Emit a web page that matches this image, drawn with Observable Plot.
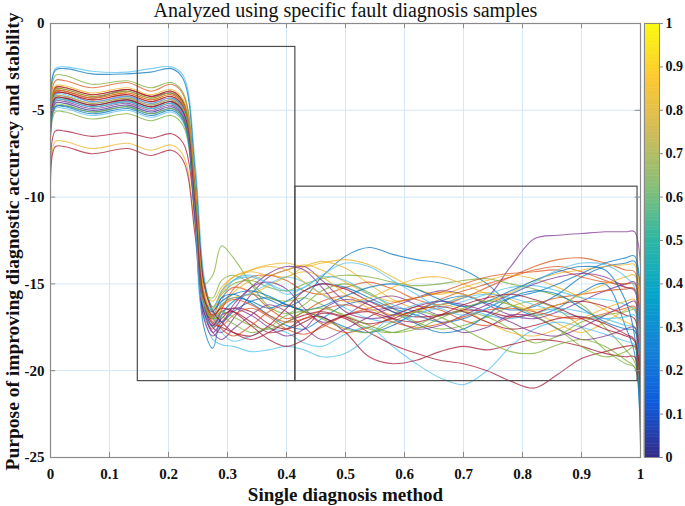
<!DOCTYPE html>
<html><head><meta charset="utf-8">
<script src="https://cdn.jsdelivr.net/npm/d3@7"></script>
<script src="https://cdn.jsdelivr.net/npm/@observablehq/plot@0.6"></script>
<style>
body{margin:0;background:#fff}
#wrap{position:relative;width:685px;height:506px;overflow:hidden}
#main{position:absolute;left:0;top:0}
#cb{position:absolute;left:640px;top:0}
</style>
</head><body>
<div id="wrap"><div id="main"></div><div id="cb"></div></div>
<script>
const xs = [0, 0.008, 0.025, 0.07, 0.13, 0.17, 0.205, 0.225, 0.245, 0.26, 0.275,
  0.29, 0.31, 0.34, 0.37, 0.40, 0.43, 0.46, 0.50, 0.54, 0.58, 0.62, 0.66, 0.70, 0.74, 0.78, 0.82, 0.86, 0.90, 0.94, 0.975,
  0.99, 1.0];

const series = [
 [-9.8,-4.8,-4.75,-5.1,-4.8,-5.2,-4.9,-5.5, -11.5,-17.5,-18.7, -16.8,-16.0,-15.6,-15.9,-16.3,-15.8,-14.6,-13.4,-12.9,-13.3,-13.6,-13.8,-14.2,-15.0,-16.2,-16.8,-16.4,-15.5,-15.0,-17.5, -19.0,-23.5],
 [-9.6,-3.3,-3.3,-3.7,-3.4,-3.9,-3.5,-4.1, -9.5,-15.5,-16.8, -15.8,-15.2,-15.5,-16.4,-17.0,-16.6,-16.0,-15.7,-16.2,-16.8,-16.5,-15.9,-15.4,-15.0,-14.6,-14.2,-14.0,-14.3,-14.8,-15.2, -15.3,-22.5],
 [-9.9,-6.8,-6.8,-7.2,-6.9,-7.3,-7.0,-7.6, -11.8,-16.0,-17.2, -16.4,-15.5,-14.8,-14.5,-14.6,-14.0,-13.7,-14.1,-15.0,-15.9,-16.4,-16.2,-15.7,-15.5,-15.9,-16.6,-17.3,-17.8,-17.2,-16.5, -16.4,-22.8],
 [-9.7,-4.1,-4.0,-4.5,-4.2,-4.6,-4.3,-4.9, -10.2,-16.5,-17.8, -17.2,-16.5,-15.2,-14.9,-15.3,-16.4,-17.2,-16.8,-16.0,-15.7,-16.2,-16.8,-16.5,-15.8,-14.0,-12.4,-12.2,-12.1,-12.0,-12.0, -12.0,-23.8],
 [-9.5,-3.0,-3.0,-3.5,-3.3,-3.7,-3.4,-4.0, -9.0,-15.0,-16.3, -15.6,-15.0,-14.8,-15.2,-15.4,-15.0,-14.7,-14.5,-14.6,-14.9,-15.1,-15.0,-14.8,-14.7,-15.0,-15.3,-15.7,-16.2,-17.5,-18.8, -19.5,-22.0],
 [-9.4,-2.6,-2.5,-2.75,-2.8,-2.6,-2.5,-3.0, -8.0,-14.5,-16.8, -17.8,-18.3,-18.0,-17.6,-17.8,-18.4,-18.6,-17.9,-17.5,-18.6,-19.6,-20.4,-20.8,-20.0,-18.6,-17.6,-17.2,-17.5,-17.9,-18.3, -18.5,-24.3],
 [-10.0,-6.2,-6.2,-6.5,-6.3,-6.6,-6.35,-6.9, -11.0,-16.3,-17.5, -17.0,-16.4,-16.6,-17.3,-17.6,-17.2,-16.7,-17.0,-17.8,-18.5,-19.0,-19.4,-19.6,-20.0,-20.6,-21.0,-20.2,-19.3,-18.9,-18.6, -18.6,-23.0],
 [-9.8,-2.7,-2.6,-2.9,-2.9,-2.8,-2.6,-3.2, -8.5,-14.8,-16.5, -17.2,-16.6,-16.0,-15.8,-16.2,-16.6,-16.9,-17.5,-17.8,-17.4,-16.6,-16.0,-15.7,-16.1,-16.5,-16.3,-15.6,-14.6,-14.0,-13.8, -13.7,-22.5],
 [-9.6,-3.8,-3.8,-4.2,-3.9,-4.3,-4.0,-4.6, -10.5,-16.8,-17.6, -16.5,-15.3,-14.6,-14.5,-14.8,-15.4,-15.6,-15.2,-14.9,-15.3,-15.9,-16.2,-15.8,-15.2,-14.6,-14.0,-13.6,-13.5,-13.8,-14.2, -14.3,-23.2],
 [-9.7,-4.4,-4.4,-4.8,-4.5,-4.9,-4.6,-5.2, -11.0,-15.8,-16.4, -15.5,-14.8,-14.2,-13.9,-13.8,-14.0,-13.8,-13.6,-13.9,-14.6,-15.3,-15.6,-15.2,-14.8,-14.5,-14.7,-15.2,-15.8,-16.5,-17.2, -17.5,-23.6],
 [-9.6,-3.9,-3.9,-4.3,-3.8,-4.2,-4.0,-4.6, -9.8,-16.2,-17.5, -17.8,-17.0,-15.6,-14.6,-14.2,-14.0,-14.8,-16.0,-16.5,-16.3,-15.8,-15.4,-15.6,-16.2,-16.8,-17.0,-16.6,-16.0,-15.4,-15.0, -14.9,-24.0],
 [-9.8,-5.1,-5.1,-5.5,-5.2,-5.6,-5.3,-5.9, -10.5,-15.0,-14.5, -12.8,-13.5,-15.0,-16.3,-16.7,-16.2,-15.4,-15.0,-15.5,-16.4,-17.2,-17.6,-17.4,-16.9,-16.3,-16.0,-16.5,-17.5,-18.8,-19.6, -19.8,-21.8],
 [-9.9,-4.9,-4.9,-5.3,-5.0,-5.4,-5.1,-5.7, -11.2,-16.8,-18.2, -18.5,-18.6,-18.9,-18.8,-18.6,-18.8,-19.2,-19.0,-18.0,-16.8,-16.2,-16.0,-16.3,-16.8,-17.0,-16.7,-16.4,-16.6,-17.0,-17.4, -17.5,-24.5],
 [-10.1,-7.1,-7.1,-7.5,-7.2,-7.6,-7.3,-7.9, -12.2,-16.6,-17.4, -16.8,-16.6,-17.2,-17.8,-17.6,-17.0,-16.9,-17.8,-19.2,-19.6,-19.4,-18.9,-18.6,-18.8,-18.5,-18.2,-18.3,-18.6,-19.0,-19.2, -19.2,-23.4],
 [-9.7,-4.2,-4.2,-4.6,-4.3,-4.7,-4.4,-5.0, -10.8,-16.5,-17.0, -16.2,-15.8,-16.0,-16.4,-16.0,-15.4,-15.0,-15.2,-15.8,-16.4,-16.8,-17.2,-17.0,-16.4,-15.8,-15.5,-15.0,-14.4,-13.8,-13.5, -13.4,-22.7],
 [-9.6,-4.0,-4.0,-4.4,-4.1,-4.5,-4.2,-4.8, -10.0,-15.8,-17.0, -17.6,-18.0,-17.4,-16.6,-16.2,-16.6,-17.3,-17.8,-17.5,-16.9,-16.3,-16.5,-17.1,-17.4,-16.9,-16.2,-15.8,-15.6,-15.4,-15.3, -15.3,-23.9],
 [-9.5,-3.9,-3.9,-4.3,-4.0,-4.4,-4.1,-4.7, -9.6,-15.2,-16.0, -15.2,-14.6,-14.3,-14.5,-14.2,-13.9,-14.2,-14.9,-15.6,-16.0,-15.8,-15.5,-15.6,-16.0,-15.5,-14.8,-14.4,-14.2,-14.0,-13.9, -13.9,-23.0],
 [-9.8,-4.5,-4.5,-4.9,-4.6,-5.0,-4.7,-5.3, -11.0,-16.5,-17.8, -18.2,-17.6,-16.8,-16.2,-16.6,-17.5,-18.2,-17.6,-16.9,-16.4,-16.6,-17.2,-17.8,-17.5,-16.8,-16.9,-17.6,-18.2,-18.0,-17.6, -17.5,-22.4],
 [-9.7,-4.3,-4.3,-4.7,-4.4,-4.8,-4.5,-5.1, -10.5,-15.5,-15.8, -14.8,-14.5,-15.0,-15.8,-16.0,-15.8,-16.2,-16.9,-17.6,-17.8,-17.4,-16.8,-16.6,-16.9,-17.6,-18.4,-18.0,-17.2,-16.8,-16.6, -16.5,-23.3],
 [-9.9,-4.6,-4.6,-5.0,-4.7,-5.1,-4.8,-5.4, -11.4,-16.9,-17.3, -16.0,-14.8,-14.5,-15.0,-15.6,-15.2,-14.6,-14.8,-15.6,-16.2,-16.6,-16.4,-16.0,-15.6,-15.2,-15.1,-15.4,-15.8,-15.9,-16.2, -16.5,-24.1],
 [-9.6,-4.0,-4.0,-4.4,-4.1,-4.5,-4.2,-4.8, -10.2,-16.2,-17.3, -17.5,-17.8,-18.0,-17.4,-16.4,-15.4,-15.0,-15.3,-16.0,-16.6,-16.9,-16.8,-16.5,-16.6,-16.9,-16.7,-16.2,-16.0,-16.3,-16.8, -17.0,-23.7],
 [-9.8,-4.8,-4.8,-5.2,-4.9,-5.3,-5.0,-5.6, -11.3,-16.0,-16.6, -15.8,-15.6,-16.1,-16.8,-17.4,-17.6,-17.0,-16.2,-16.0,-16.6,-17.3,-17.8,-17.6,-16.8,-15.8,-15.4,-15.6,-16.4,-17.2,-17.6, -17.7,-22.9],
 [-9.5,-3.7,-3.7,-4.1,-3.8,-4.2,-3.9,-4.5, -9.4,-15.6,-17.2, -17.4,-16.8,-16.4,-16.9,-17.6,-17.9,-17.5,-16.8,-16.4,-16.1,-15.8,-15.5,-15.0,-14.6,-14.4,-14.3,-14.2,-14.6,-14.9,-15.0, -15.0,-23.5],
 [-9.7,-4.2,-4.2,-4.6,-4.3,-4.7,-4.4,-5.0, -10.6,-16.0,-16.8, -16.2,-15.8,-15.6,-15.1,-14.6,-14.3,-14.6,-15.6,-16.4,-16.8,-16.6,-16.2,-16.5,-17.2,-17.8,-18.0,-17.6,-17.0,-16.4,-16.0, -15.9,-22.6],
 [-9.7,-4.3,-4.3,-4.7,-4.4,-4.8,-4.5,-5.1, -10.4,-16.6,-17.4, -16.6,-16.4,-16.8,-17.5,-18.0,-17.6,-16.5,-15.9,-16.2,-17.0,-17.6,-17.4,-16.8,-16.2,-15.6,-15.0,-14.6,-14.4,-14.6,-15.2, -15.4,-23.1],
 [-9.8,-4.7,-4.7,-5.1,-4.8,-5.2,-4.9,-5.5, -11.1,-16.2,-17.0, -16.9,-17.3,-17.8,-17.5,-16.8,-16.6,-17.0,-17.6,-17.8,-17.2,-16.6,-16.9,-17.6,-18.3,-18.9,-19.0,-18.5,-18.2,-18.6,-19.4, -19.8,-22.2],
 [-9.6,-4.1,-4.1,-4.5,-4.2,-4.6,-4.3,-4.9, -10.0,-16.4,-17.5, -16.8,-16.0,-15.5,-15.0,-14.6,-14.9,-15.6,-16.4,-17.0,-17.2,-16.8,-16.2,-15.8,-15.6,-15.8,-16.2,-16.6,-16.9,-17.0,-16.9, -16.8,-24.4],
 [-9.5,-3.7,-3.7,-4.1,-3.8,-4.2,-3.9,-4.5, -9.2,-15.0,-16.6, -17.2,-17.8,-18.2,-17.8,-17.2,-16.8,-16.6,-16.9,-17.3,-17.0,-16.5,-16.3,-16.6,-17.2,-17.6,-17.4,-17.0,-16.9,-17.3,-17.9, -18.2,-23.8],
 [-9.8,-4.4,-4.4,-4.8,-4.5,-4.9,-4.6,-5.2, -10.9,-15.9,-16.5, -16.0,-15.6,-15.4,-15.7,-16.2,-16.5,-16.3,-15.7,-15.2,-15.0,-15.3,-15.9,-16.3,-16.0,-15.4,-14.8,-14.3,-14.0,-14.2,-16.0, -18.0,-24.2],
 [-9.6,-3.9,-3.9,-4.3,-4.0,-4.4,-4.1,-4.7, -10.1,-16.1,-16.9, -16.3,-15.9,-16.2,-16.8,-17.2,-17.0,-16.5,-16.2,-16.6,-17.2,-17.5,-17.3,-16.9,-16.5,-16.4,-16.6,-16.9,-17.0,-16.7,-16.4, -16.3,-22.7],
 [-9.5,-3.6,-3.6,-4.0,-3.7,-4.1,-3.8,-4.4, -9.0,-15.4,-16.5, -15.4,-14.6,-14.2,-14.0,-14.2,-14.9,-15.6,-16.0,-15.8,-15.2,-14.7,-14.6,-15.0,-15.6,-16.2,-16.5,-16.2,-15.6,-15.0,-14.6, -14.5,-23.4],
 [-9.8,-4.6,-4.6,-5.0,-4.7,-5.1,-4.8,-5.4, -11.2,-17.0,-18.0, -17.4,-16.2,-15.2,-14.4,-14.0,-14.2,-15.2,-16.6,-17.0,-16.8,-16.3,-16.0,-16.2,-16.6,-17.2,-17.8,-18.0,-17.5,-16.8,-16.2, -16.0,-22.3],
 [-9.6,-3.8,-3.8,-4.2,-3.9,-4.3,-4.0,-4.6, -9.8,-15.9,-17.0, -16.6,-16.9,-17.4,-17.6,-17.2,-16.6,-16.4,-16.8,-17.4,-17.8,-17.6,-17.0,-16.4,-16.0,-16.2,-16.8,-17.6,-18.6,-19.2,-18.9, -18.6,-23.6],
 [-9.7,-4.4,-4.4,-4.8,-4.5,-4.9,-4.6,-5.2, -10.7,-16.2,-16.4, -15.4,-14.8,-14.6,-15.0,-15.4,-15.2,-14.5,-13.8,-14.0,-14.8,-15.6,-16.4,-16.8,-16.4,-15.6,-14.9,-14.2,-13.8,-13.9,-14.6, -15.2,-24.0],
 [-9.7,-4.3,-4.3,-4.7,-4.4,-4.8,-4.5,-5.1, -10.4,-15.8,-16.8, -16.4,-16.6,-17.4,-18.2,-18.6,-18.2,-17.4,-16.8,-16.6,-17.0,-17.2,-16.8,-16.2,-15.8,-15.6,-15.9,-16.4,-17.0,-17.6,-18.0, -18.3,-23.2]
];

const lineColors = ["#0072BD", "#D95319", "#EDB120", "#7E2F8E", "#77AC30", "#4DBEEE", "#A2142F"];
const xTicks = [0, 0.1, 0.2, 0.3, 0.4, 0.5, 0.6, 0.7, 0.8, 0.9, 1];
const yTicks = [0, -5, -10, -15, -20, -25];
const cTicks = [0, 0.1, 0.2, 0.3, 0.4, 0.5, 0.6, 0.7, 0.8, 0.9, 1];
const boxes = [
  {x1: 0.148, x2: 0.415, y1: -20.6, y2: -1.35},
  {x1: 0.415, x2: 0.995, y1: -20.6, y2: -9.4}
];
const parulaStops = ["#352A87", "#0F5CDD", "#1481D6", "#06A4CA", "#2EB7A4", "#87BF77", "#D1BB59", "#FEC832", "#F9FB0E"];

const titleText = "Analyzed using specific fault diagnosis samples";
const xLabel = "Single diagnosis method";
const yLabel = "Purpose of improving diagnostic accuracy and stability";

const rows = series.flatMap((s, i) => s.map((v, j) => ({x: xs[j], y: v, id: i, c: lineColors[i % 7]})));
const font = "'Liberation Serif', 'Times New Roman', serif";

const main = Plot.plot({
  width: 685, height: 506,
  marginTop: 23, marginBottom: 49, marginLeft: 50, marginRight: 45,
  style: {fontFamily: font, background: "transparent"},
  x: {domain: [0, 1], label: null},
  y: {domain: [-25, 0], label: null},
  color: {type: "identity"},
  marks: [
    Plot.gridX(xTicks, {stroke: "#d6e6f4", strokeOpacity: 1}),
    Plot.gridY(yTicks, {stroke: "#d6e6f4", strokeOpacity: 1}),
    Plot.line(rows, {x: "x", y: "y", z: "id", stroke: "c", curve: "catmull-rom", strokeWidth: 1.1, strokeOpacity: 0.72, clip: true}),
    Plot.rect(boxes, {x1: "x1", x2: "x2", y1: "y1", y2: "y2", fill: "none", stroke: "#4d4d4d", strokeWidth: 1.2}),
    Plot.frame({stroke: "#8a8a8a", strokeWidth: 1.2}),
    Plot.ruleX(xTicks, {x: d => d, y1: -25, y2: -24.7, stroke: "#8a8a8a"}),
    Plot.ruleX(xTicks, {x: d => d, y1: 0, y2: -0.3, stroke: "#8a8a8a"}),
    Plot.ruleY(yTicks, {y: d => d, x1: 0, x2: 0.009, stroke: "#8a8a8a"}),
    Plot.ruleY(yTicks, {y: d => d, x1: 1, x2: 0.991, stroke: "#8a8a8a"}),
    Plot.axisX(xTicks, {anchor: "bottom", tickSize: 0, tickPadding: 11, tickFormat: d => String(d), fontSize: 15, fontWeight: "bold", fill: "#111", label: null}),
    Plot.axisY(yTicks, {anchor: "left", tickSize: 0, tickPadding: 6, tickFormat: d => String(d), fontSize: 15, fontWeight: "bold", fill: "#111", label: null}),
    Plot.text([titleText], {frameAnchor: "top", lineAnchor: "middle", dy: -13, text: d => d, fontSize: 20, fill: "#111"}),
    Plot.text([xLabel], {frameAnchor: "bottom", lineAnchor: "middle", dy: 37, text: d => d, fontSize: 19, fontWeight: "bold", fill: "#111"}),
    Plot.text([yLabel], {frameAnchor: "left", textAnchor: "middle", lineAnchor: "middle", dx: -38, dy: 1, rotate: -90, text: d => d, fontSize: 19.5, fontWeight: "bold", fill: "#111"})
  ]
});
document.getElementById("main").appendChild(main);

const bands = d3.range(128);
const cb = Plot.plot({
  width: 45, height: 506,
  marginTop: 23, marginBottom: 49, marginLeft: 4, marginRight: 26,
  style: {fontFamily: font, background: "transparent", overflow: "visible"},
  y: {domain: [0, 1], label: null},
  color: {domain: [0, 1], interpolate: d3.piecewise(d3.interpolateRgb, parulaStops)},
  marks: [
    Plot.rect(bands, {y1: d => d / 128, y2: d => (d + 1) / 128, fill: d => (d + 0.5) / 128, stroke: d => (d + 0.5) / 128, strokeWidth: 0.5}),
    Plot.frame({stroke: "#8a8a8a"}),
    Plot.axisY(cTicks, {anchor: "right", tickSize: 3, tickPadding: 3, tickFormat: d => String(d), fontSize: 14, fontWeight: "bold", fill: "#111", stroke: "#8a8a8a", label: null})
  ]
});
document.getElementById("cb").appendChild(cb);
</script>
</body></html>
